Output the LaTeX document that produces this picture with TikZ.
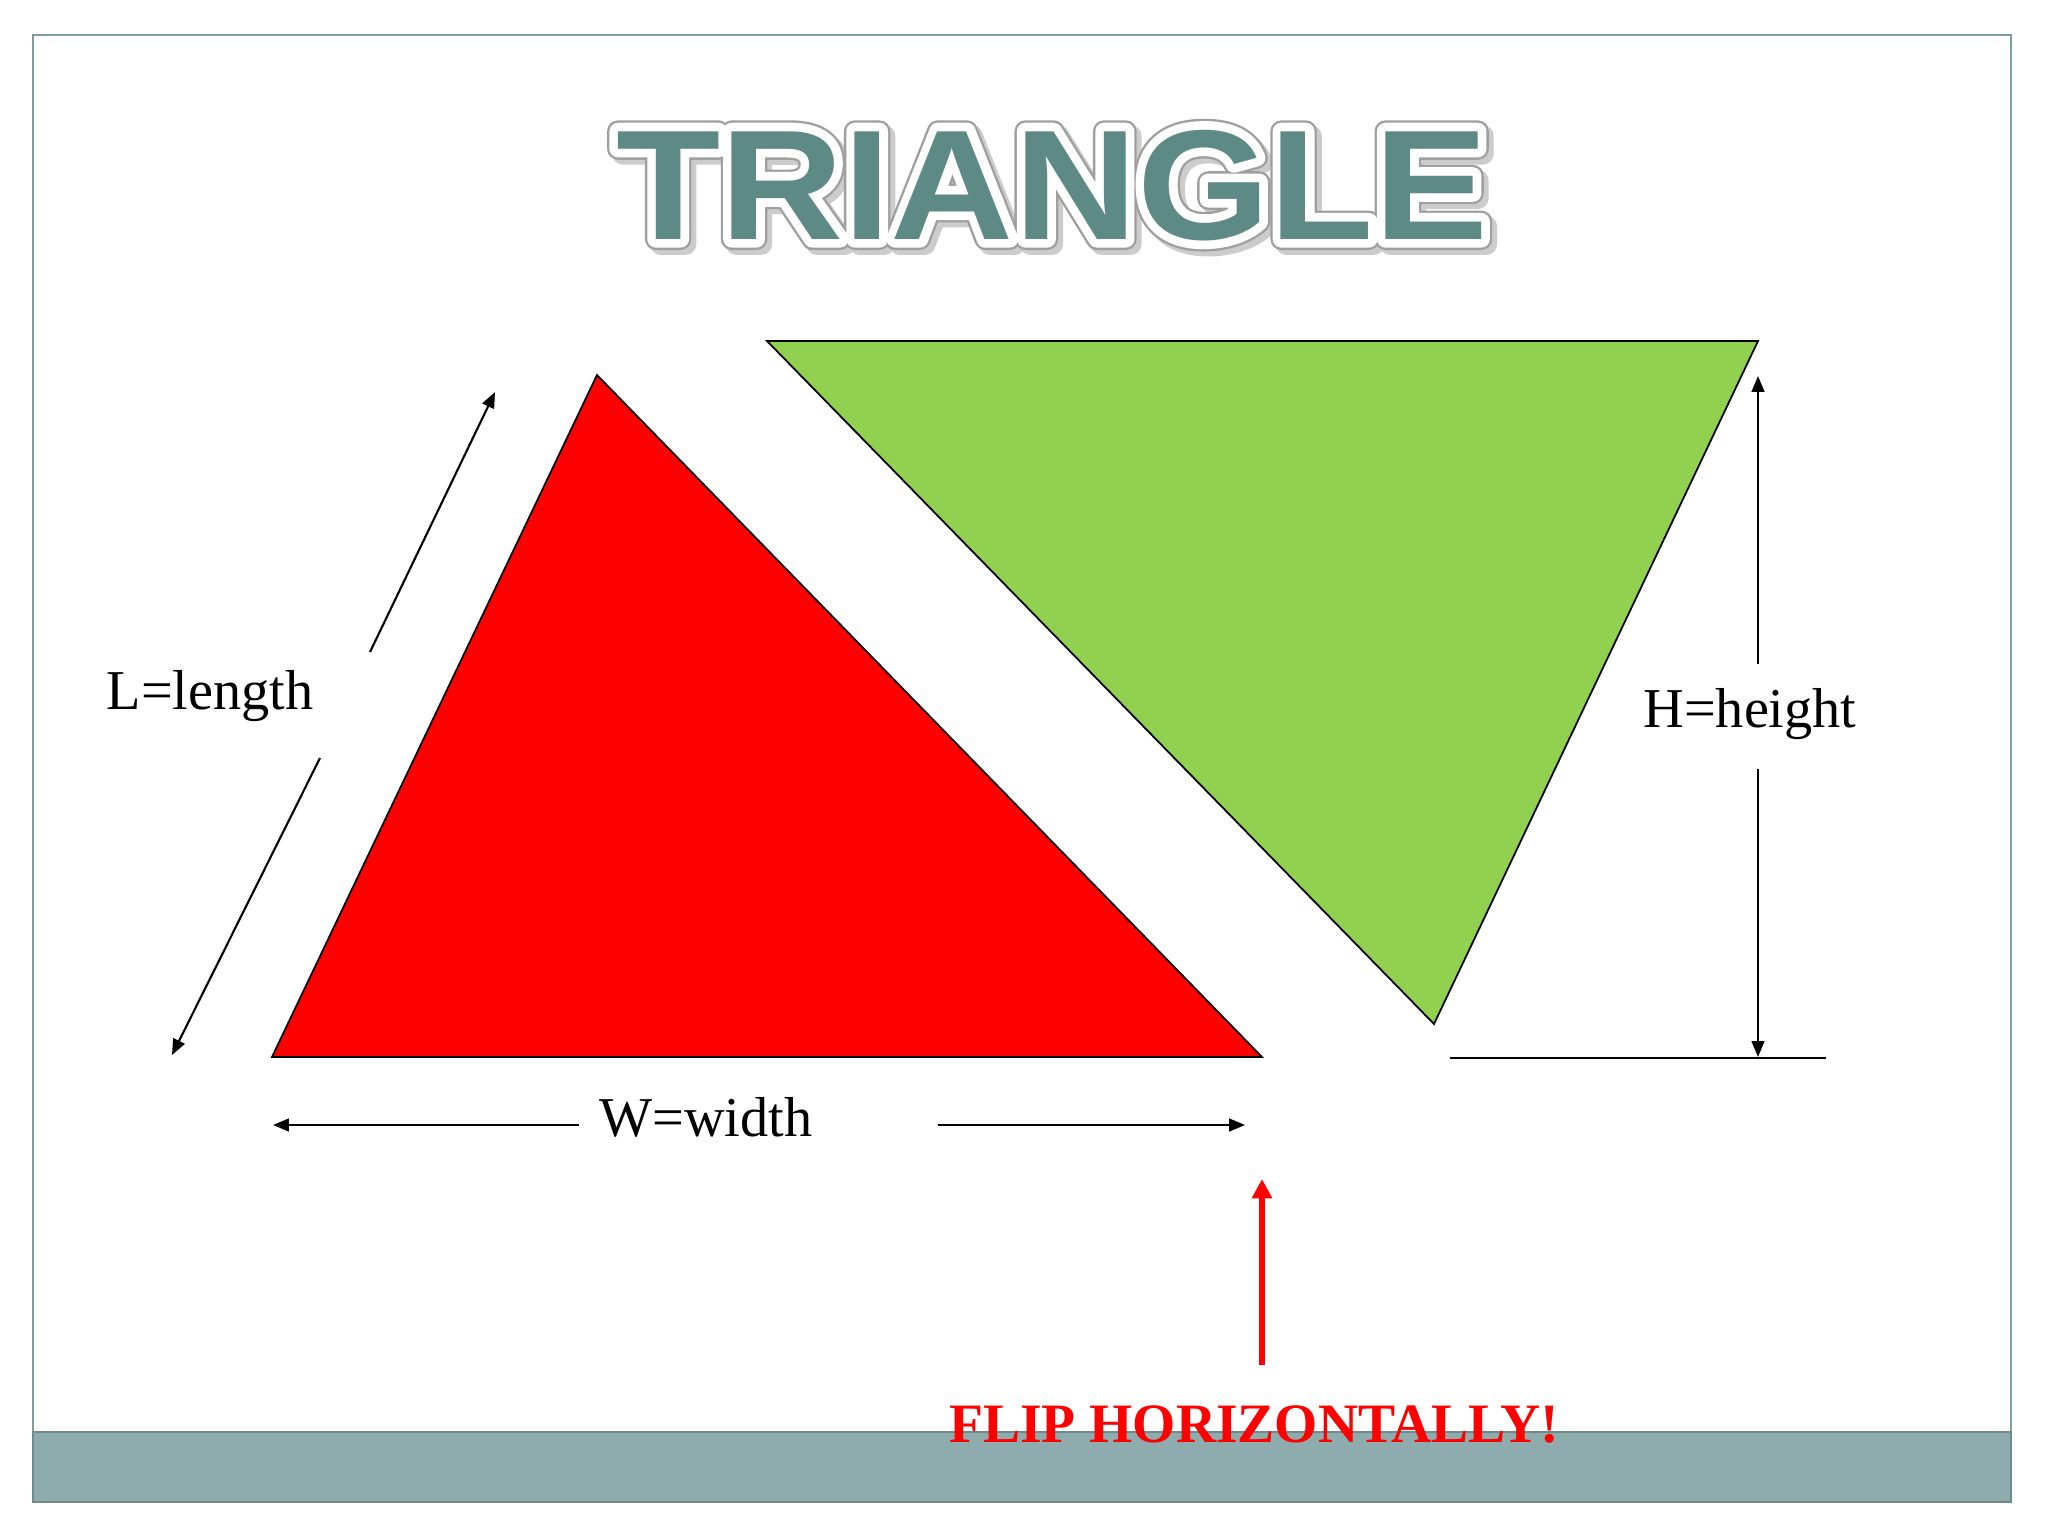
\documentclass[tikz,border=0pt]{standalone}
\usepackage{fontspec}
\setmainfont{Liberation Serif}
\newfontfamily\headfont{Liberation Sans Bold}[FakeStretch=1.09]
\newfontfamily\headwhite{Liberation Sans Bold}[FakeStretch=1.09, FakeBold=11]
\newfontfamily\headedge{Liberation Sans Bold}[FakeStretch=1.09, FakeBold=14]
\usetikzlibrary{arrows.meta}

\definecolor{slate}{HTML}{5E8A86}
\definecolor{barcol}{HTML}{8EABAD}
\definecolor{framecol}{HTML}{7E9E9B}
\definecolor{leafgreen}{HTML}{92D050}

\tikzset{
  lbl/.style={font=\fontsize{16}{19}\selectfont, anchor=base, inner sep=0pt},
  dim/.style={->, line width=0.6pt},
  titletext/.style={font=\headfont\fontsize{44.5}{48}\selectfont, anchor=base, inner sep=0pt},
  halotext/.style={titletext, line join=round, line cap=round}
}

\begin{document}
\begin{tikzpicture}[x=0.01cm, y=-0.01cm, >={Triangle[length=4.5pt,width=3.6pt]}]
  \useasboundingbox (0,0) rectangle (2048,1536);

  % frame and bottom bar
  \draw[framecol, line width=0.6pt] (33,35) rectangle (2011,1502);
  \filldraw[fill=barcol, draw=barcol!80!black, line width=0.5pt] (33,1432) rectangle (2011,1502);

  % title: shadow, grey edge, white outline, teal letters
  \node[halotext, gray!40, font=\headedge\fontsize{44.5}{48}\selectfont, shift={(1.4pt,-1.4pt)}] (shade) at (1052,239) {TRIANGLE};
  \node[halotext, gray!75, font=\headedge\fontsize{44.5}{48}\selectfont] (edge) at (1052,239) {TRIANGLE};
  \node[halotext, white, font=\headwhite\fontsize{44.5}{48}\selectfont] (halo) at (1052,239) {TRIANGLE};
  \node[titletext, slate] (title) at (1052,239) {TRIANGLE};

  % triangles
  \coordinate (ra) at (597,375);
  \coordinate (rb) at (272,1057);
  \coordinate (rc) at (1262,1057);
  \filldraw[fill=red, draw=black, line width=0.5pt] (ra) -- (rb) -- (rc) -- cycle;

  \coordinate (ga) at (767,341);
  \coordinate (gb) at (1758,341);
  \coordinate (gc) at (1434,1024);
  \filldraw[fill=leafgreen, draw=black, line width=0.5pt] (ga) -- (gb) -- (gc) -- cycle;

  % labels
  \node[lbl] (len) at (210,709) {L=length};
  \node[lbl] (wid) at (706,1136) {W=width};
  \node[lbl] (hgt) at (1750,727) {H=height};
  \node[lbl, red, font=\bfseries\fontsize{15.8}{18}\selectfont] (flip) at (1254,1442) {FLIP HORIZONTALLY!};

  % dimension arrows
  \coordinate (l1) at (370,652);
  \coordinate (l2) at (495,392);
  \coordinate (l3) at (320,758);
  \coordinate (l4) at (172,1055);
  \draw[dim] (l1) -- (l2);
  \draw[dim] (l3) -- (l4);

  \coordinate (w1) at (579,1125);
  \coordinate (w2) at (273,1125);
  \coordinate (w3) at (938,1125);
  \coordinate (w4) at (1245,1125);
  \draw[dim] (w1) -- (w2);
  \draw[dim] (w3) -- (w4);

  \coordinate (h1) at (1758,664);
  \coordinate (h2) at (1758,376);
  \coordinate (h3) at (1758,769);
  \coordinate (h4) at (1758,1057);
  \draw[dim] (h1) -- (h2);
  \draw[dim] (h3) -- (h4);

  \coordinate (b1) at (1450,1058);
  \coordinate (b2) at (1826,1058);
  \draw[line width=0.6pt] (b1) -- (b2);

  % flip arrow
  \coordinate (f1) at (1262,1365);
  \coordinate (f2) at (1262,1179);
  \draw[red, line width=1.6pt, -{Triangle[length=5.5pt,width=5.5pt]}] (f1) -- (f2);
\end{tikzpicture}
\end{document}
